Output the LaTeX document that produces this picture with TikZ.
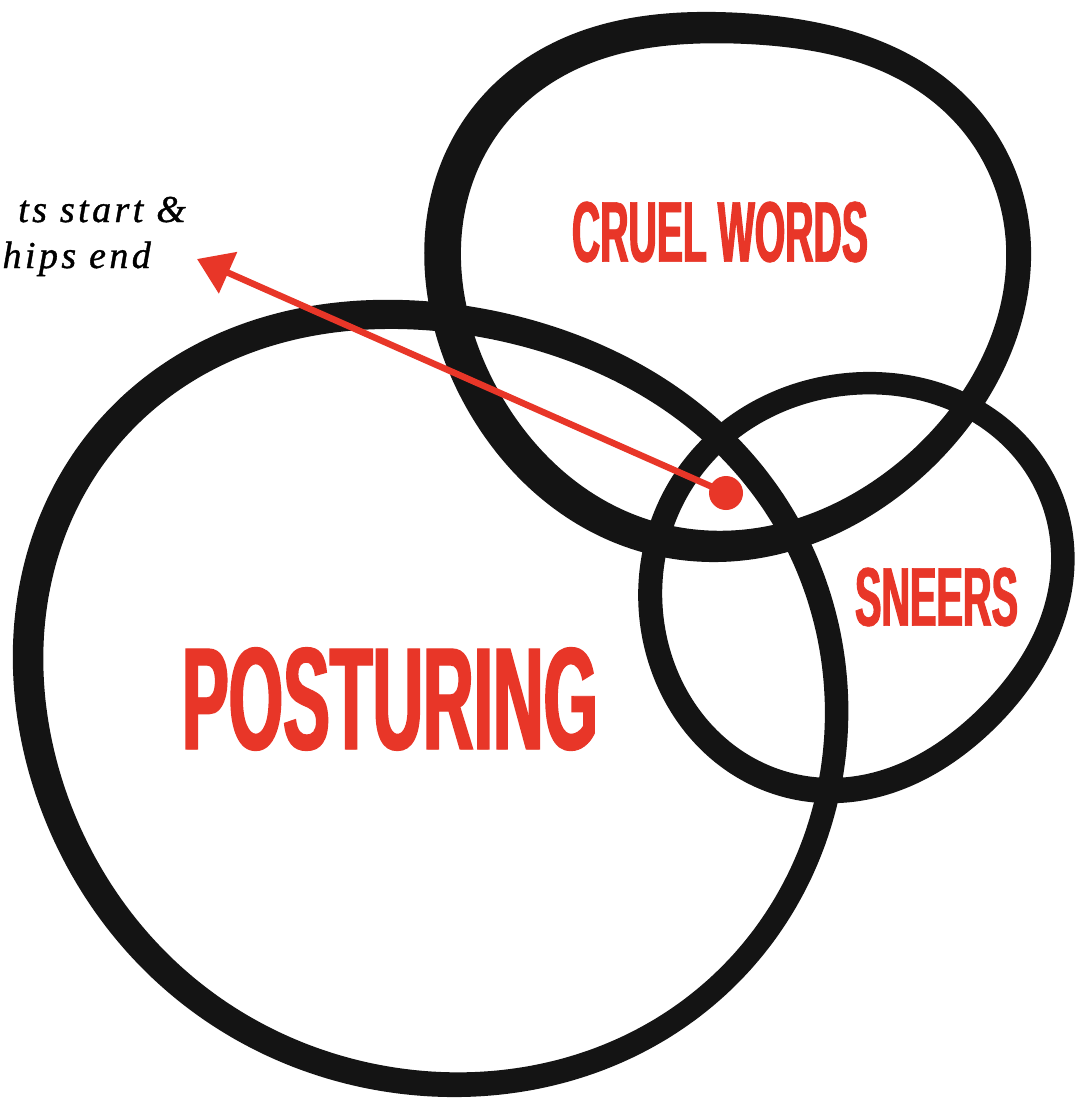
\documentclass[tikz,border=0pt]{standalone}
\usepackage{fontspec}
\usepackage{graphicx}
\usetikzlibrary{arrows.meta}
\newfontfamily\gothicfont{Liberation Sans Bold}[FakeStretch=0.1667,FakeBold=0.6]
\newfontfamily\labelfont{Liberation Serif Italic}[LetterSpace=9,FakeBold=1]
\definecolor{ink}{RGB}{20,20,20}
\definecolor{vred}{RGB}{232,54,40}
\newcommand{\gothicfit}[4]{\resizebox{#1pt}{#2pt}{\scalebox{3}[1]{\fontsize{#3pt}{#3pt}\gothicfont #4}}}
\tikzset{
  brush/.style={fill=ink, even odd rule},
  curve/.style={domain=0:357.5, samples=144, smooth cycle, variable=\t},
  bigword/.style={inner sep=0pt, text=vred},
  note/.style={anchor=base east, inner sep=0pt, text=black, font=\fontsize{38pt}{38pt}\labelfont},
  declare function={
    rbig(\t)=395.6+1.53*cos(\t)-3.71*sin(\t)+9.58*cos(2*\t)+13.71*sin(2*\t)+1.83*cos(3*\t)-3.67*sin(3*\t)-2.08*cos(4*\t);
    wbig(\t)=27+4*cos(\t-210);
    rcru(\t)=273.75-2.32*cos(\t)-12.69*sin(\t)+13.17*cos(2*\t)-1.19*sin(2*\t)+2.83*cos(3*\t)-9.67*sin(3*\t)-1.5*cos(4*\t);
    wcru(\t)=31+6*cos(\t-180);
    rsne(\t)=203.75-3.69*cos(\t)-6.96*sin(\t)+1.17*cos(2*\t)-10.1*sin(2*\t)+1.83*cos(3*\t)-3*sin(3*\t);
    wsne(\t)=24+1.5*sin(\t);
  },
}
\begin{document}
\begin{tikzpicture}[x=1pt,y=-1pt]
\useasboundingbox (0,0) rectangle (1078,1104);
\clip (0,0) rectangle (1078,1104);
\fill[white] (0,0) rectangle (1078,1104);

% big circle (POSTURING)
\begin{scope}[shift={(430,700)}]
\fill[brush]
  plot[curve] ({(rbig(\t)+wbig(\t)/2)*cos(\t)}, {(rbig(\t)+wbig(\t)/2)*sin(\t)})
  plot[curve] ({(rbig(\t)-wbig(\t)/2)*cos(\t)}, {(rbig(\t)-wbig(\t)/2)*sin(\t)});
\end{scope}

% cruel words circle
\begin{scope}[shift={(730,290)}]
\fill[brush]
  plot[curve] ({(rcru(\t)+wcru(\t)/2)*cos(\t)}, {(rcru(\t)+wcru(\t)/2)*sin(\t)})
  plot[curve] ({(rcru(\t)-wcru(\t)/2)*cos(\t)}, {(rcru(\t)-wcru(\t)/2)*sin(\t)});
\end{scope}

% sneers circle
\begin{scope}[shift={(857,590)}]
\fill[brush]
  plot[curve] ({(rsne(\t)+wsne(\t)/2)*cos(\t)}, {(rsne(\t)+wsne(\t)/2)*sin(\t)})
  plot[curve] ({(rsne(\t)-wsne(\t)/2)*cos(\t)}, {(rsne(\t)-wsne(\t)/2)*sin(\t)});
\end{scope}

% labels
\node[bigword] (posturing) at (390,699) {\gothicfit{416}{102}{142}{POSTURING}};
\node[bigword] (cruel) at (720,232) {\gothicfit{296}{60}{82}{CRUEL WORDS}};
\node[bigword] (sneers) at (936.5,597) {\gothicfit{163}{58}{82}{SNEERS}};

\node[note] (lineone) at (186,222) {ts start \&};
\node[note] (linetwo) at (151,268) {hips end};

% arrow
\node[circle, fill=vred, inner sep=0pt, minimum size=34pt] (dot) at (726,493) {};
\coordinate (tip) at (197,259);
\draw[vred, line width=6.5pt, -{Triangle[length=34pt,width=44pt]}] (dot.center) -- (tip);
\end{tikzpicture}
\end{document}
